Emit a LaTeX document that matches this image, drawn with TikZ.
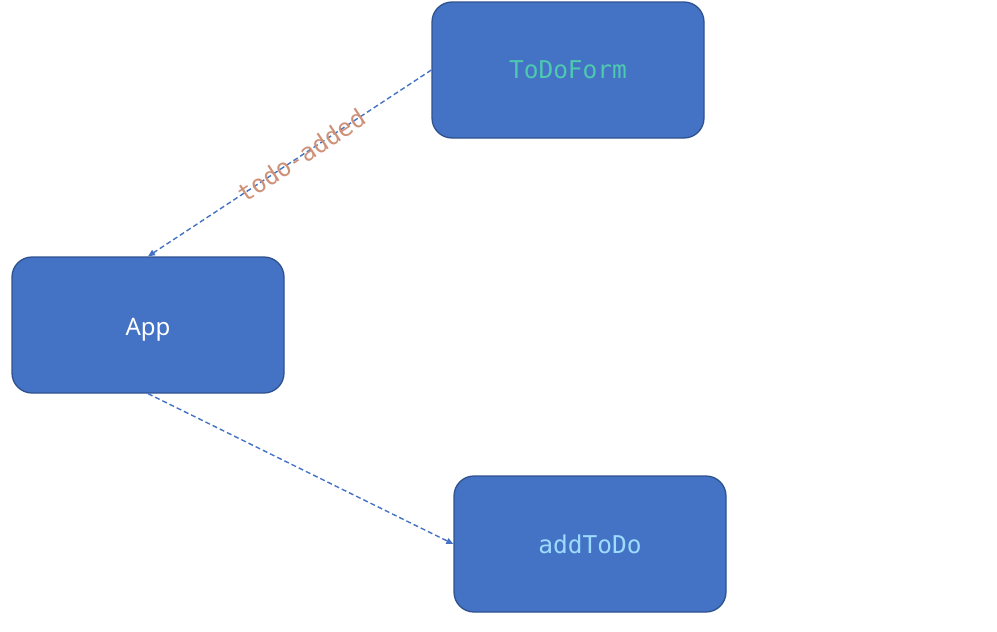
\documentclass[tikz,border=0pt]{standalone}
\usepackage{fontspec}
\setmainfont{Noto Sans}
\setmonofont{DejaVu Sans Mono}
\usetikzlibrary{arrows.meta}
\definecolor{boxfill}{HTML}{4472C4}
\definecolor{boxline}{HTML}{2F528F}
\definecolor{teal}{HTML}{4EC9B0}
\definecolor{lightblue}{HTML}{9CDCFE}
\definecolor{strcol}{HTML}{CE9178}
\definecolor{arrowcol}{HTML}{4472C4}
\begin{document}
\begin{tikzpicture}[x=1pt,y=-1pt,
  box/.style={draw=boxline, line width=1.3pt, fill=boxfill, rounded corners=20pt,
    minimum width=272pt, minimum height=136pt, inner sep=0pt},
  conn/.style={draw=arrowcol, line width=1.4pt, dash pattern=on 5pt off 3pt,
    -{Triangle[length=7pt,width=6pt]}},
  codetxt/.style={font=\ttfamily\fontsize{24.5}{28}\selectfont}
]
\useasboundingbox (0,0) rectangle (997,632);
\node[box, codetxt, text=teal] (form) at (568,70) {ToDoForm};
\node[box, font=\fontsize{24}{28}\selectfont, text=white, text depth=0pt] (app) at (148,325) {\raisebox{-3pt}{App}};
\node[box, codetxt, text=lightblue] (add) at (590,544) {addToDo};
\draw[conn] (form.west) -- node[sloped, pos=0.46, yshift=0pt, text=strcol, codetxt, inner sep=0pt] (lbl) {todo-added} (app.north);
\draw[conn] (app.south) -- (add.west);
\end{tikzpicture}
\end{document}
